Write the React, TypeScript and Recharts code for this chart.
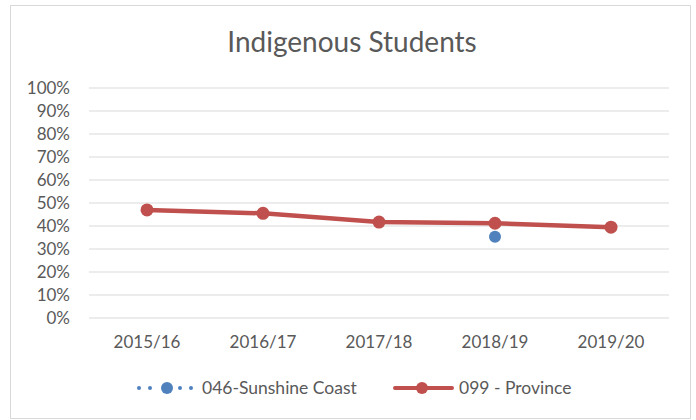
import React from 'react';
import { LineChart, Line, XAxis, YAxis, CartesianGrid } from 'recharts';

const years = ['2015/16', '2016/17', '2017/18', '2018/19', '2019/20'];
const sunshineCoast = [null, null, null, 35.3, null];
const province = [47.0, 45.5, 41.7, 41.2, 39.5];
const yTicks = [0, 10, 20, 30, 40, 50, 60, 70, 80, 90, 100];

const data = years.map((year, i) => ({
  year,
  sunshine: sunshineCoast[i],
  province: province[i],
}));

const FONT = 'Lato, "Open Sans", sans-serif';
const TEXT = '#595959';
const BLUE = '#4F81BD';
const RED = '#C0504D';

// legend drawn by hand, Excel style: dotted blue, solid red
function ChartLegend() {
  return (
    <svg width={696} height={30} style={{ position: 'absolute', left: 0, top: 373 }}>
      <g>
        {[139, 150, 180, 191].map((x) => (
          <circle key={x} cx={x} cy={15} r={2} fill={BLUE} />
        ))}
        <circle cx={167} cy={15} r={6} fill={BLUE} />
        <text x={202} y={15} dy="0.35em" fill={TEXT} fontSize={17.5} fontFamily={FONT}>
          046-Sunshine Coast
        </text>
      </g>
      <g>
        <line x1={395} x2={452} y1={15} y2={15} stroke={RED} strokeWidth={4} strokeLinecap="round" />
        <circle cx={422} cy={15} r={6} fill={RED} />
        <text x={459} y={15} dy="0.35em" fill={TEXT} fontSize={17.5} fontFamily={FONT}>
          099 - Province
        </text>
      </g>
    </svg>
  );
}

export default function App() {
  return (
    <div style={{ position: 'absolute', left: 0, top: 0, width: 696, height: 420, background: '#fff' }}>
      <div
        style={{
          position: 'absolute',
          left: 10,
          top: 5,
          width: 681,
          height: 414,
          border: '1.5px solid #d9d9d9',
          boxSizing: 'border-box',
        }}
      />
      <div
        style={{
          position: 'absolute',
          left: 0,
          width: 696,
          top: 24,
          textAlign: 'center',
          fontFamily: FONT,
          fontSize: 28,
          color: TEXT,
          paddingLeft: 8,
          boxSizing: 'border-box',
        }}
      >
        Indigenous Students
      </div>
      <LineChart
        width={696}
        height={420}
        data={data}
        margin={{ top: 88, right: 27, bottom: 72, left: 0 }}
        style={{ position: 'absolute', left: 0, top: 0 }}
      >
        <CartesianGrid vertical={false} stroke="#d9d9d9" strokeWidth={1} />
        <XAxis
          dataKey="year"
          axisLine={false}
          tickLine={false}
          tickSize={0}
          tickMargin={18}
          height={30}
          padding={{ left: 58, right: 58 }}
          tick={{ fill: TEXT, fontSize: 17, fontFamily: FONT }}
        />
        <YAxis
          domain={[0, 100]}
          ticks={yTicks}
          tickFormatter={(v) => `${v}%`}
          axisLine={false}
          tickLine={false}
          tickSize={0}
          tickMargin={19}
          width={89}
          interval={0}
          tick={{ fill: TEXT, fontSize: 17, fontFamily: FONT }}
        />
        <Line
          dataKey="province"
          stroke={RED}
          strokeWidth={4.5}
          dot={{ r: 6.5, fill: RED, stroke: RED, strokeWidth: 0 }}
          isAnimationActive={false}
        />
        <Line
          dataKey="sunshine"
          stroke={BLUE}
          strokeWidth={2}
          strokeDasharray="2 4"
          dot={{ r: 6, fill: BLUE, stroke: BLUE, strokeWidth: 0 }}
          isAnimationActive={false}
        />
      </LineChart>
      <ChartLegend />
    </div>
  );
}
